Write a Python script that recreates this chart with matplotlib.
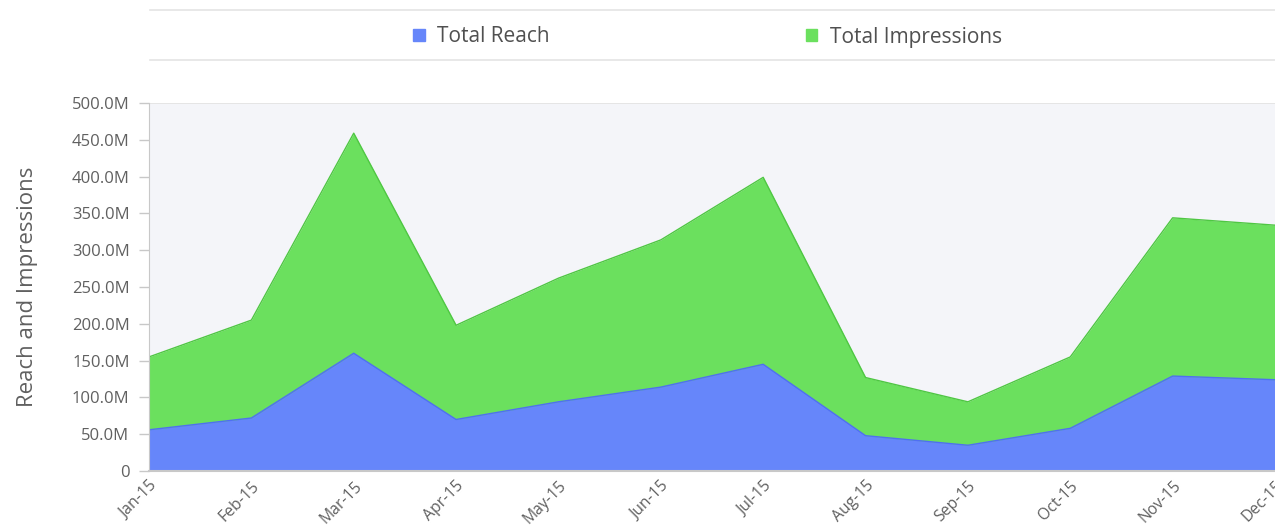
import matplotlib
matplotlib.use("Agg")
import matplotlib.pyplot as plt
from matplotlib.patches import Patch
from matplotlib.lines import Line2D
from matplotlib.ticker import FuncFormatter, MultipleLocator

plt.rcParams['font.family'] = ['Open Sans', 'DejaVu Sans']

# monthly totals (millions)
months = ['Jan-15', 'Feb-15', 'Mar-15', 'Apr-15', 'May-15', 'Jun-15',
          'Jul-15', 'Aug-15', 'Sep-15', 'Oct-15', 'Nov-15', 'Dec-15']
reach = [56, 72, 160, 70, 94, 114, 145, 48, 35, 58, 129, 124]
impressions = [155, 205, 459, 198, 262, 314, 399, 127, 94, 155, 344, 334]

blue = '#6686FA'
green = '#6BE05E'
grey_text = '#606060'

fig = plt.figure(figsize=(12.75, 5.26), dpi=100)
ax = fig.add_axes([149 / 1275, 55 / 526, 1 - 149 / 1275, 368 / 526])

x = list(range(len(months)))
imp = [v * 1e6 for v in impressions]
rch = [v * 1e6 for v in reach]

ax.fill_between(x, 0, imp, color=green, linewidth=0)
ax.plot(x, imp, color='#4FC743', linewidth=1)
ax.fill_between(x, 0, rch, color=blue, linewidth=0)
ax.plot(x, rch, color='#4F6FF2', linewidth=1)

ax.set_facecolor('#F4F5F9')
ax.set_xlim(0, len(months) - 1)
ax.set_ylim(0, 500e6)
ax.yaxis.set_major_locator(MultipleLocator(50e6))
ax.yaxis.set_major_formatter(FuncFormatter(
    lambda v, p: '0' if v == 0 else f'{v / 1e6:.1f}M'))

ax.set_xticks(x)
ax.set_xticklabels(months, rotation=45, ha='right', rotation_mode='anchor')
ax.tick_params(axis='x', length=0, pad=5, labelsize=11.3, labelcolor=grey_text)
ax.tick_params(axis='y', length=7, width=1, color='#C8C8C8', pad=7,
               labelsize=12, labelcolor=grey_text)

for side in ['top', 'right']:
    ax.spines[side].set_visible(False)
ax.spines['left'].set_color('#C8C8C8')
ax.spines['bottom'].set_color('#C8C8C8')
ax.spines['bottom'].set_linewidth(1.5)
# light frame line across the top of the plot area
ax.axhline(500e6, color='#E2E2E2', linewidth=1.2)

ax.set_ylabel('Reach and Impressions', fontsize=16, color=grey_text, labelpad=24)

# legend band between two thin rules
for yy in [1 - 10 / 526, 1 - 60 / 526]:
    fig.add_artist(Line2D([150 / 1275, 1], [yy, yy], color='#E4E4E4',
                          linewidth=1.2, transform=fig.transFigure))

handles = [Patch(color=blue, label='Total Reach'),
           Patch(color=green, label='Total Impressions')]
fig.legend(handles=handles, loc='center', bbox_to_anchor=(0.555, 1 - 37 / 526),
           ncol=2, frameon=False, fontsize=15, handlelength=0.55, handleheight=0.55,
           handletextpad=0.6, columnspacing=12.3, labelcolor='#505050')

fig.savefig('out.png', dpi=100)
